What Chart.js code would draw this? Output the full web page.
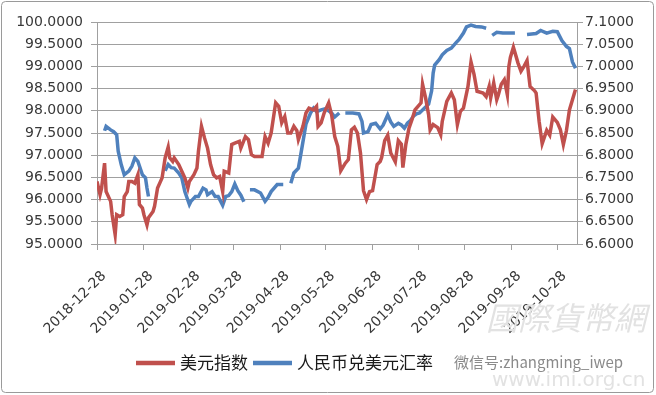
<!DOCTYPE html>
<html><head><meta charset="utf-8">
<script src="https://cdn.jsdelivr.net/npm/chart.js@4"></script>
<style>html,body{margin:0;padding:0;background:#fff;}#wrap{width:656px;height:395px;}</style>
</head><body><div id="wrap"><canvas id="c" width="656" height="395"></canvas></div>
<script>
const seriesNames = ['美元指数', '人民币兑美元汇率'];
const startDate = '2018-12-28';
const endDate = '2019-11-10';
const xTickLabels = ['2018-12-28','2019-01-28','2019-02-28','2019-03-28','2019-04-28','2019-05-28','2019-06-28','2019-07-28','2019-08-28','2019-09-28','2019-10-28'];
const leftTicks = [95, 95.5, 96, 96.5, 97, 97.5, 98, 98.5, 99, 99.5, 100];
const rightTicks = [6.6, 6.65, 6.7, 6.75, 6.8, 6.85, 6.9, 6.95, 7.0, 7.05, 7.1];

const usdDates = ['2018-12-28','2018-12-30','2018-12-31','2019-01-02','2019-01-03','2019-01-06','2019-01-07','2019-01-09','2019-01-10','2019-01-12','2019-01-14','2019-01-15','2019-01-17','2019-01-18','2019-01-20','2019-01-22','2019-01-24','2019-01-25','2019-01-27','2019-01-28','2019-01-30','2019-01-31','2019-02-03','2019-02-04','2019-02-06','2019-02-09','2019-02-11','2019-02-13','2019-02-14','2019-02-16','2019-02-17','2019-02-20','2019-02-22','2019-02-24','2019-02-26','2019-02-27','2019-03-02','2019-03-04','2019-03-05','2019-03-07','2019-03-09','2019-03-11','2019-03-13','2019-03-15','2019-03-17','2019-03-19','2019-03-21','2019-03-22','2019-03-25','2019-03-27','2019-03-29','2019-04-01','2019-04-02','2019-04-05','2019-04-07','2019-04-09','2019-04-11','2019-04-13','2019-04-16','2019-04-18','2019-04-20','2019-04-22','2019-04-25','2019-04-27','2019-04-29','2019-05-01','2019-05-03','2019-05-05','2019-05-07','2019-05-09','2019-05-10','2019-05-13','2019-05-15','2019-05-17','2019-05-20','2019-05-22','2019-05-23','2019-05-25','2019-05-27','2019-05-30','2019-06-01','2019-06-03','2019-06-05','2019-06-07','2019-06-10','2019-06-12','2019-06-14','2019-06-16','2019-06-18','2019-06-20','2019-06-22','2019-06-24','2019-06-26','2019-06-28','2019-07-01','2019-07-03','2019-07-04','2019-07-06','2019-07-08','2019-07-10','2019-07-13','2019-07-15','2019-07-17','2019-07-18','2019-07-20','2019-07-22','2019-07-24','2019-07-26','2019-07-27','2019-07-30','2019-07-31','2019-08-02','2019-08-04','2019-08-05','2019-08-07','2019-08-10','2019-08-12','2019-08-13','2019-08-16','2019-08-19','2019-08-21','2019-08-23','2019-08-25','2019-08-27','2019-08-30','2019-09-01','2019-09-03','2019-09-05','2019-09-09','2019-09-11','2019-09-13','2019-09-14','2019-09-16','2019-09-18','2019-09-19','2019-09-21','2019-09-23','2019-09-25','2019-09-26','2019-09-27','2019-09-29','2019-10-02','2019-10-04','2019-10-06','2019-10-08','2019-10-10','2019-10-13','2019-10-14','2019-10-16','2019-10-18','2019-10-21','2019-10-23','2019-10-25','2019-10-28','2019-10-30','2019-11-01','2019-11-03','2019-11-05','2019-11-07','2019-11-09'];
const usdIndex = [96.41,96.11,96.25,96.82,96.18,95.96,95.66,95.21,95.66,95.62,95.66,96.07,96.18,96.41,96.41,96.37,96.56,95.89,95.81,95.66,95.43,95.59,95.73,95.85,96.26,96.49,96.94,97.18,96.94,96.86,96.94,96.79,96.64,96.49,96.26,96.41,96.56,96.71,97.09,97.65,97.39,97.16,96.79,96.56,96.49,96.52,96.18,96.64,96.60,97.24,97.27,97.31,97.16,97.42,97.35,97.01,96.97,96.97,96.97,97.42,97.27,97.50,98.18,98.10,97.73,97.87,97.50,97.50,97.65,97.55,97.35,97.65,97.95,98.06,98.02,98.10,97.65,97.73,97.95,98.18,97.90,97.42,97.20,96.65,96.82,96.90,97.57,97.63,97.50,97.05,96.20,96.00,96.18,96.20,96.79,96.86,96.95,97.33,97.45,97.05,96.85,97.33,97.25,96.72,97.25,97.60,97.80,98.02,98.06,98.18,98.60,98.29,97.91,97.57,97.69,97.62,97.46,97.76,98.21,98.40,98.25,97.69,97.99,98.06,98.55,99.10,98.82,98.44,98.40,98.32,98.55,98.29,98.63,98.25,98.35,98.60,98.70,98.36,99.00,99.20,99.43,99.08,98.89,99.00,99.13,98.55,98.45,98.40,97.76,97.26,97.56,97.45,97.86,97.74,97.58,97.24,97.55,98.02,98.25,98.48];

const cnyDates = ['2019-01-02','2019-01-03','2019-01-06','2019-01-08','2019-01-10','2019-01-11','2019-01-13','2019-01-15','2019-01-18','2019-01-20','2019-01-22','2019-01-24','2019-01-27','2019-01-29','2019-01-30','2019-01-31','2019-02-06','2019-02-11','2019-02-13','2019-02-15','2019-02-17','2019-02-20','2019-02-22','2019-02-24','2019-02-27','2019-02-28','2019-03-03','2019-03-05','2019-03-08','2019-03-10','2019-03-11','2019-03-14','2019-03-16','2019-03-18','2019-03-21','2019-03-23','2019-03-25','2019-03-27','2019-03-29','2019-03-31','2019-04-02','2019-04-04','2019-04-05','2019-04-08','2019-04-11','2019-04-15','2019-04-18','2019-04-20','2019-04-22','2019-04-26','2019-04-30','2019-05-02','2019-05-05','2019-05-07','2019-05-10','2019-05-11','2019-05-13','2019-05-15','2019-05-18','2019-05-20','2019-05-22','2019-05-25','2019-05-28','2019-06-01','2019-06-03','2019-06-06','2019-06-08','2019-06-10','2019-06-15','2019-06-19','2019-06-21','2019-06-22','2019-06-25','2019-06-27','2019-06-30','2019-07-03','2019-07-05','2019-07-08','2019-07-10','2019-07-12','2019-07-15','2019-07-17','2019-07-19','2019-07-21','2019-07-23','2019-07-25','2019-07-27','2019-07-29','2019-08-01','2019-08-04','2019-08-06','2019-08-07','2019-08-08','2019-08-11','2019-08-13','2019-08-16','2019-08-19','2019-08-22','2019-08-24','2019-08-27','2019-08-29','2019-09-01','2019-09-04','2019-09-08','2019-09-11','2019-09-13','2019-09-15','2019-09-18','2019-09-22','2019-09-24','2019-09-30','2019-10-04','2019-10-08','2019-10-14','2019-10-17','2019-10-21','2019-10-25','2019-10-28','2019-10-31','2019-11-03','2019-11-05','2019-11-07','2019-11-09'];
const cnyRate = [6.855,6.865,6.857,6.853,6.846,6.809,6.779,6.756,6.764,6.775,6.794,6.786,6.756,6.749,6.726,6.707,null,6.765,6.779,6.772,6.771,6.760,6.749,6.718,6.689,6.696,6.707,6.707,6.726,6.722,6.711,6.718,6.707,6.707,6.687,6.707,6.709,6.718,6.735,6.720,6.710,6.695,null,6.722,6.722,6.715,6.696,6.705,6.718,6.734,6.734,null,6.737,6.760,6.771,6.790,6.830,6.870,6.895,6.906,6.898,6.902,6.905,6.895,6.886,6.895,null,6.895,6.895,6.893,6.876,6.850,6.853,6.869,6.872,6.859,6.868,6.891,6.875,6.865,6.872,6.868,6.861,6.872,6.878,6.888,6.893,6.895,6.905,6.915,6.945,6.985,7.003,7.015,7.026,7.036,7.041,7.053,7.060,7.075,7.089,7.093,7.090,7.089,7.086,null,7.070,7.077,7.075,7.075,7.075,null,7.072,7.074,7.081,7.075,7.079,7.078,7.058,7.045,7.040,7.010,6.996];

function dayOf(s) {
  const p = s.split('-').map(Number), q = startDate.split('-').map(Number);
  return (Date.UTC(p[0], p[1] - 1, p[2]) - Date.UTC(q[0], q[1] - 1, q[2])) / 86400000;
}

const tickFont = { family: '"DejaVu Sans"', size: 14 };
const tickColor = '#383838';
const gridColor = '#a0a0a0';

const framePlugin = {
  id: 'frame',
  beforeDraw(chart) {
    const c = chart.ctx;
    c.save();
    c.fillStyle = '#fff';
    c.fillRect(0, 0, chart.width, chart.height);
    c.strokeStyle = '#9a9a9a';
    c.lineWidth = 1;
    c.beginPath();
    c.roundRect(1.5, 1.5, chart.width - 4, chart.height - 4, 4);
    c.stroke();
    c.restore();
  },
  afterDraw(chart) {
    const c = chart.ctx;
    c.save();
    // legend
    let x = 136;
    const y = 363;
    c.font = '17px "Noto Sans CJK SC"';
    c.textBaseline = 'middle';
    c.textAlign = 'left';
    chart.data.datasets.forEach(ds => {
      c.strokeStyle = ds.borderColor;
      c.lineWidth = 4.5;
      c.beginPath();
      c.moveTo(x, y);
      c.lineTo(x + 39, y);
      c.stroke();
      x += 44;
      c.fillStyle = '#1a1a1a';
      c.fillText(ds.label, x, y);
      x += c.measureText(ds.label).width + 5;
    });
    // watermarks
    c.fillStyle = '#e2e2e2';
    c.font = 'italic 32px "Noto Sans CJK TC"';
    c.fillText('國際貨幣網', 486, 318);
    c.font = '20px "DejaVu Sans"';
    c.fillText('www.imi.org.cn', 492, 381);
    c.fillStyle = '#8a8a8a';
    c.font = '15px "Noto Sans CJK SC"';
    c.fillText('微信号:zhangming_iwep', 454, 362);
    c.restore();
  }
};

new Chart(document.getElementById('c'), {
  type: 'line',
  data: {
    datasets: [
      {
        label: seriesNames[0],
        data: usdDates.map((d, i) => ({ x: dayOf(d), y: usdIndex[i] })),
        borderColor: '#C0504D',
        borderWidth: 3.5,
        pointRadius: 0,
        tension: 0,
        yAxisID: 'y'
      },
      {
        label: seriesNames[1],
        data: cnyDates.map((d, i) => ({ x: dayOf(d), y: cnyRate[i] })),
        borderColor: '#4F81BD',
        borderWidth: 3.5,
        pointRadius: 0,
        tension: 0,
        spanGaps: false,
        yAxisID: 'y1'
      }
    ]
  },
  options: {
    responsive: false,
    animation: false,
    devicePixelRatio: 1,
    layout: { padding: { top: 22, left: 0, right: 0, bottom: 0 } },
    plugins: { legend: { display: false }, tooltip: { enabled: false } },
    scales: {
      x: {
        type: 'linear',
        min: 0,
        max: dayOf(endDate),
        afterBuildTicks: s => { s.ticks = xTickLabels.map(l => ({ value: dayOf(l) })); },
        afterFit: s => { s.height = 151; },
        ticks: {
          autoSkip: false,
          minRotation: 45,
          maxRotation: 45,
          font: tickFont,
          color: tickColor,
          padding: 18,
          labelOffset: 7,
          callback: (v, i) => xTickLabels[i]
        },
        grid: { drawOnChartArea: false, drawTicks: true, tickLength: 6, color: gridColor },
        border: { display: true, color: gridColor }
      },
      y: {
        position: 'left',
        min: 95,
        max: 100,
        afterBuildTicks: s => { s.ticks = leftTicks.map(v => ({ value: v })); },
        afterFit: s => { s.width = 97; },
        ticks: { font: tickFont, color: tickColor, padding: 8, callback: v => Number(v).toFixed(4) },
        grid: { color: gridColor, tickLength: 6 },
        border: { color: gridColor }
      },
      y1: {
        position: 'right',
        min: 6.6,
        max: 7.1,
        afterBuildTicks: s => { s.ticks = rightTicks.map(v => ({ value: v })); },
        afterFit: s => { s.width = 79; },
        ticks: { font: tickFont, color: tickColor, padding: 2, callback: v => Number(v).toFixed(4) },
        grid: { drawOnChartArea: false, color: gridColor, tickLength: 6 },
        border: { color: gridColor }
      }
    }
  },
  plugins: [framePlugin]
});
</script></body></html>
